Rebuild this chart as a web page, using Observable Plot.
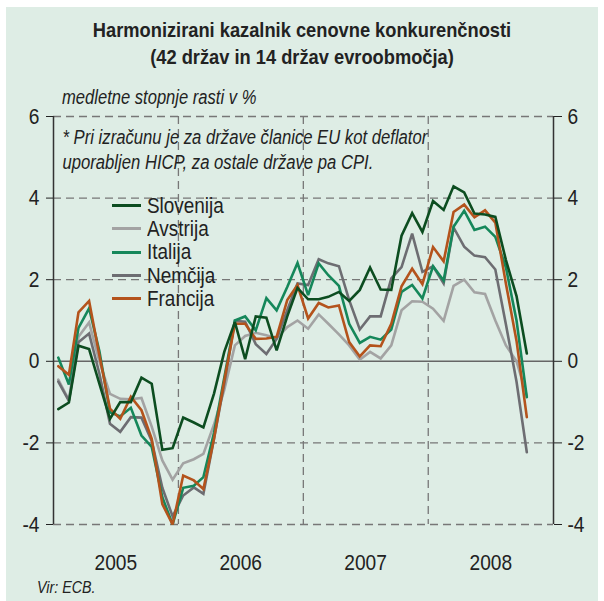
<!DOCTYPE html>
<html><head><meta charset="utf-8">
<script src="https://cdn.jsdelivr.net/npm/d3@7"></script>
<script src="https://cdn.jsdelivr.net/npm/@observablehq/plot@0.6"></script>
<style>
body{margin:0;background:#fff;}
#wrap{position:relative;width:604px;height:601px;overflow:hidden;background:#fff;
 font-family:"Liberation Sans",Arial,sans-serif;color:#222;}
#panel{position:absolute;left:6px;top:7px;width:592px;height:594px;background:#deede5;}
.t{position:absolute;white-space:nowrap;color:#222;}
#title{left:0;width:604px;top:16px;text-align:center;font-weight:bold;font-size:21px;line-height:27px;transform:scaleX(0.87);transform-origin:302px 0;}
#sub{left:62px;top:86px;font-style:italic;font-size:19.5px;transform:scaleX(0.85);transform-origin:0 0;}
#src{left:37px;top:578px;font-style:italic;font-size:17px;transform:scaleX(0.84);transform-origin:0 0;}
#chart{position:absolute;left:0;top:100px;}
#legend{position:absolute;left:112px;top:194px;}
.row{height:23.3px;display:flex;align-items:center;font-size:22px;}
.sw{display:inline-block;width:29px;height:3px;margin-right:6px;}
.lab{display:inline-block;transform:scaleX(0.86);transform-origin:0 50%;}
</style></head><body>
<div id="wrap">
 <div id="panel"></div>
 <div class="t" id="title">Harmonizirani kazalnik cenovne konkurenčnosti<br>(42 držav in 14 držav evroobmočja)</div>
 <div class="t" id="sub">medletne stopnje rasti v %</div>
 <div id="chart"></div>
 <div id="legend"></div>
 <div class="t" id="src">Vir: ECB.</div>
</div>
<script>
const FONT = '"Liberation Sans",Arial,sans-serif';

const countries = ["Slovenija", "Avstrija", "Italija", "Nemčija", "Francija"];
const colors = ["#0c4d20", "#a3a3a3", "#15875a", "#6d6d72", "#b4531c"];

// monthly values, Jan 2005 – Oct 2008
const slovenija = [-1.17,-1.01,0.38,0.30,-0.55,-1.41,-1.00,-1.00,-0.40,-0.55,
 -2.17,-2.13,-1.38,-1.50,-1.62,-0.79,0.23,0.96,0.05,1.10,
 1.07,0.27,1.10,1.80,1.52,1.52,1.58,1.70,1.48,1.75,
 2.30,1.76,1.75,3.08,3.63,3.17,3.93,3.71,4.29,4.14,
 3.62,3.60,3.54,2.48,1.60,0.19];
const avstrija = [-0.45,-0.95,0.60,0.95,0.00,-0.80,-0.92,-0.93,-0.90,-1.60,
 -2.43,-2.90,-2.50,-2.40,-2.27,-1.55,-0.70,0.39,0.62,0.70,
 0.64,0.56,0.84,1.00,0.80,1.15,0.92,0.66,0.39,0.04,
 0.23,0.07,0.39,1.25,1.47,1.46,1.29,0.99,1.85,2.00,
 1.69,1.65,1.00,0.39,0.00,-0.85];
const italija = [0.09,-0.57,0.82,1.30,0.25,-1.25,-1.35,-1.14,-1.82,-2.10,
 -3.33,-4.00,-3.10,-3.05,-2.84,-1.75,-0.40,1.00,1.10,0.76,
 1.55,1.25,1.82,2.41,1.62,2.40,2.11,1.85,0.92,0.45,
 0.60,0.53,0.78,1.70,1.87,1.54,2.33,1.98,3.30,3.69,
 3.22,3.30,3.05,2.30,1.00,-0.88];
const nemcija = [-0.50,-0.97,0.47,0.68,-0.30,-1.53,-1.73,-1.37,-1.38,-1.95,
 -3.10,-3.80,-3.29,-3.09,-3.25,-1.90,-0.55,0.99,0.97,0.42,
 0.18,0.55,1.25,1.91,1.87,2.50,2.40,2.33,1.50,0.78,
 1.10,1.10,2.03,2.31,3.13,2.19,2.33,1.91,3.28,2.81,
 2.59,2.55,2.25,0.90,-0.50,-2.23];
const francija = [-0.12,-0.33,1.20,1.48,0.15,-1.16,-1.41,-0.87,-1.20,-1.90,
 -3.50,-4.00,-2.80,-2.92,-3.13,-1.90,-0.47,0.92,0.92,0.55,
 0.56,0.60,1.50,1.87,1.05,1.43,1.32,1.37,0.47,0.12,
 0.39,0.37,0.92,1.84,2.27,1.89,2.80,2.45,3.66,3.84,
 3.53,3.70,3.40,1.90,0.50,-1.37];

const yTicks = [-4, -2, 0, 2, 4, 6];
const yearLabels = [2005, 2006, 2007, 2008];
const note = "* Pri izračunu je za države članice EU kot deflator\nuporabljen HICP, za ostale države pa CPI.";

const seriesValues = [slovenija, avstrija, italija, nemcija, francija];
const months = d3.utcMonth.range(new Date(Date.UTC(2005, 0, 1)), new Date(Date.UTC(2008, 10, 1)))
  .map(d => d3.utcDay.offset(d, 14));
const xStart = new Date(Date.UTC(yearLabels[0], 0, 1));
const xEnd = new Date(Date.UTC(yearLabels[yearLabels.length - 1] + 1, 0, 1));
const yearBounds = yearLabels.slice(1).map(y => new Date(Date.UTC(y, 0, 1)));
const yearMids = yearLabels.map(y => new Date(Date.UTC(y, 6, 2)));

const drawOrder = [1, 3, 2, 4, 0];
const lineMarks = drawOrder.map(k => Plot.lineY(
  months.map((d, i) => ({date: d, value: seriesValues[k][i]})),
  {x: "date", y: "value", stroke: colors[k], strokeWidth: 2.6, strokeLinejoin: "miter", strokeMiterlimit: 3}
));

const dash = {stroke: "#777", strokeDasharray: "8,5", strokeWidth: 1.3};

const chart = Plot.plot({
  width: 604, height: 485,
  marginLeft: 53, marginRight: 51, marginTop: 16, marginBottom: 61,
  style: {background: "transparent", fontFamily: FONT, fontSize: "22px", color: "#222", overflow: "visible"},
  x: {type: "utc", domain: [xStart, xEnd]},
  y: {domain: [yTicks[0], yTicks[yTicks.length - 1]]},
  marks: [
    Plot.ruleY(yTicks.filter(v => v !== 0), dash),
    Plot.ruleX(yearBounds, dash),
    Plot.ruleY([0], {stroke: "#666", strokeWidth: 1.6}),
    Plot.ruleX([xStart, xEnd], {stroke: "#333", strokeWidth: 1.5}),
    Plot.axisY({anchor: "left", ticks: yTicks, tickSize: 7, tickPadding: 7, tickFormat: d => String(d), label: null, fontSize: 22}),
    Plot.axisY({anchor: "right", ticks: yTicks, tickSize: 8, tickPadding: 6, tickFormat: d => String(d), label: null, fontSize: 22}),
    Plot.axisX({ticks: yearMids, tickFormat: d3.utcFormat("%Y"), tickSize: 0, tickPadding: 30, label: null, fontSize: 22}),
    Plot.text([note], {frameAnchor: "top-left", dx: 9, dy: 10, textAnchor: "start", lineAnchor: "top",
      lineHeight: 1.28, fontStyle: "italic", fontSize: 19.5, fill: "#222"}),
    ...lineMarks
  ]
});
document.getElementById("chart").appendChild(chart);

// condense text horizontally (narrow typeface look)
chart.querySelectorAll("text").forEach(t => {
  const sx = t.closest("[font-style='italic']") || t.getAttribute("font-style") === "italic" ? 0.855 : 0.87;
  const tr = t.getAttribute("transform");
  if (tr) {
    t.setAttribute("transform", tr + ` scale(${sx},1)`);
  } else {
    const x = +t.getAttribute("x") || 0, y = +t.getAttribute("y") || 0;
    t.removeAttribute("x"); t.removeAttribute("y");
    t.setAttribute("transform", `translate(${x},${y}) scale(${sx},1)`);
  }
});

const legend = document.getElementById("legend");
countries.forEach((c, k) => {
  const row = document.createElement("div");
  row.className = "row";
  row.innerHTML = `<span class="sw" style="background:${colors[k]}"></span><span class="lab">${c}</span>`;
  legend.appendChild(row);
});
</script>
</body></html>
